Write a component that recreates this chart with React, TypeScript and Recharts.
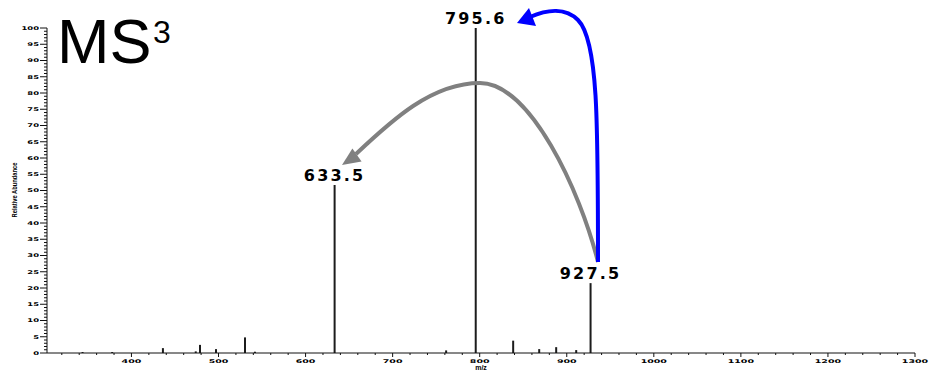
import { ComposedChart, Bar, XAxis, YAxis, LabelList } from 'recharts';

// peaks (m/z, relative abundance %)
const peakMz = [344, 378, 436.3, 474, 478.9, 497.3, 530.6, 542, 633.5, 761.6, 795.6, 838.6, 868.5, 888, 911, 927.5];
const peakAbundance = [0.3, 0.3, 1.5, 0.5, 2.5, 1.2, 4.8, 0.4, 51.7, 0.8, 100, 3.8, 1.2, 1.8, 0.9, 21.5];
const peakTags = ['', '', '', '', '', '', '', '', '633.5', '', '795.6', '', '', '', '', '927.5'];

const xMajorTicks = [400, 500, 600, 700, 800, 900, 1000, 1100, 1200, 1300];
const yMajorTicks = [0, 5, 10, 15, 20, 25, 30, 35, 40, 45, 50, 55, 60, 65, 70, 75, 80, 85, 90, 95, 100];
const xMinorStep = 20;
const yMinorStep = 1;

const xAllTicks: number[] = [];
for (let v = 320; v <= 1300; v += xMinorStep) xAllTicks.push(v);
const yAllTicks: number[] = [];
for (let v = 0; v <= 100; v += yMinorStep) yAllTicks.push(v);

const data = peakMz.map((mz, i) => ({ mz, abundance: peakAbundance[i], tag: peakTags[i] }));

const tickFont = 'DejaVu Sans';

function YTick(props: any) {
  const { x, y, payload } = props;
  const v = payload.value;
  const major = yMajorTicks.includes(v);
  return (
    <g>
      <line x1={x - (major ? 7 : 3)} x2={x} y1={y} y2={y} stroke="#111" strokeWidth={1} />
      {major && (
        <text
          transform={`translate(${x - 8},${y + 1.8}) scale(1.2,0.72)`}
          textAnchor="end"
          fontSize={7}
          fontWeight="bold"
          fontFamily={tickFont}
          fill="#000"
        >
          {v}
        </text>
      )}
    </g>
  );
}

function XTick(props: any) {
  const { x, y, payload } = props;
  const v = payload.value;
  const major = xMajorTicks.includes(v);
  return (
    <g>
      <line x1={x} x2={x} y1={y} y2={y + (major ? 4 : 2)} stroke="#111" strokeWidth={1} />
      {major && (
        <text
          transform={`translate(${x},${y + 10}) scale(1.35,0.72)`}
          textAnchor="middle"
          fontSize={7}
          fontWeight="bold"
          fontFamily={tickFont}
          fill="#000"
        >
          {v}
        </text>
      )}
    </g>
  );
}

export default function App() {
  return (
    <div style={{ position: 'absolute', left: 0, top: 0, width: 930, height: 371, background: '#fff' }}>
      <ComposedChart
        width={930}
        height={371}
        data={data}
        margin={{ top: 28, right: 15, bottom: 0, left: 0 }}
        style={{ fontFamily: 'Liberation Sans' }}
      >
        <XAxis
          dataKey="mz"
          type="number"
          domain={[303, 1300]}
          ticks={xAllTicks}
          interval={0}
          tick={<XTick />}
          tickLine={false}
          tickSize={0}
          tickMargin={0}
          height={18}
          stroke="#111"
          allowDataOverflow
          label={{
            value: 'm/z',
            position: 'insideBottom',
            offset: 1,
            fontSize: 7,
            fontWeight: 'bold',
            fill: '#000',
          }}
        />
        <YAxis
          type="number"
          domain={[0, 100]}
          ticks={yAllTicks}
          interval={0}
          tick={<YTick />}
          tickLine={false}
          tickSize={0}
          tickMargin={0}
          width={47}
          stroke="#111"
          allowDataOverflow
          label={{
            content: () => (
              <text
                transform="translate(17,190) rotate(-90)"
                textAnchor="middle"
                fontSize={7}
                fontWeight="bold"
                fontFamily="Liberation Sans"
                textLength={55}
                lengthAdjust="spacingAndGlyphs"
                fill="#000"
              >
                Relative Abundance
              </text>
            ),
          }}
        />
        <Bar dataKey="abundance" fill="#1c1c1c" barSize={2} isAnimationActive={false}>
          <LabelList
            dataKey="tag"
            position="top"
            offset={4}
            fontSize={16}
            fontWeight="bold"
            fontFamily="DejaVu Sans"
            letterSpacing={2.2}
            fill="#000"
          />
        </Bar>
      </ComposedChart>
      <svg
        width={930}
        height={371}
        style={{ position: 'absolute', left: 0, top: 0, pointerEvents: 'none' }}
      >
        <text x={57} y={63} fontSize={63} fontFamily="Liberation Sans" fill="#000">
          MS
        </text>
        <text x={153} y={43} fontSize={32} fontFamily="Liberation Sans" fill="#000">
          3
        </text>
        {/* gray arrow 927.5 -> 633.5 */}
        <path
          d="M598,262 C580,190 530,83 480,83 C432,83 392,120 356,154"
          fill="none"
          stroke="#808080"
          strokeWidth={4}
        />
        <polygon points="342,165 352.4,148.4 361.6,161.6" fill="#808080" />
        {/* blue arrow 927.5 -> 795.6 */}
        <path
          d="M598,262 C598,120 598,40 578,20 C566,8 548,9 530,17"
          fill="none"
          stroke="#0000ff"
          strokeWidth={4}
        />
        <polygon points="517,23 529,8 536,26" fill="#0000ff" />
      </svg>
    </div>
  );
}
